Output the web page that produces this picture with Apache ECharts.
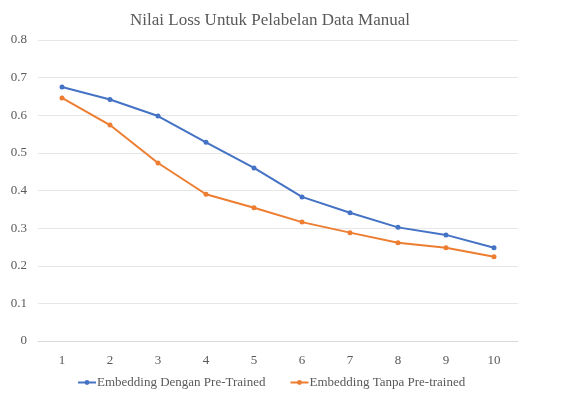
<!DOCTYPE html>
<html>
<head>
<meta charset="utf-8">
<script src="https://cdn.jsdelivr.net/npm/echarts@6/dist/echarts.min.js"></script>
<style>html,body{margin:0;padding:0;background:#fff}#c{width:565px;height:398px}</style>
</head>
<body>
<div id="c"></div>
<script>
const categories = ['1','2','3','4','5','6','7','8','9','10'];
const denganPreTrained = [0.675, 0.642, 0.598, 0.528, 0.460, 0.383, 0.341, 0.302, 0.282, 0.248];
const tanpaPreTrained = [0.646, 0.574, 0.473, 0.390, 0.354, 0.316, 0.288, 0.261, 0.248, 0.224];
const seriesNames = ['Embedding Dengan Pre-Trained', 'Embedding Tanpa Pre-trained'];
const titleText = 'Nilai Loss Untuk Pelabelan Data Manual';

const font = '"Liberation Serif", "Times New Roman", serif';
const chart = echarts.init(document.getElementById('c'));
chart.setOption({
  animation: false,
  backgroundColor: '#fff',
  title: {
    text: titleText, left: 125, top: 7,
    textStyle: {fontFamily: font, fontSize: 17, fontWeight: 'normal', color: '#595959'}
  },
  legend: {
    bottom: 4, left: 72, itemGap: 24, itemWidth: 18, itemHeight: 6,
    textStyle: {fontFamily: font, fontSize: 13, color: '#595959', padding: [0, 0, 0, -4]},
    data: seriesNames
  },
  grid: {left: 38, right: 47, top: 40, bottom: 57},
  xAxis: {
    type: 'category', data: categories, boundaryGap: true,
    axisLine: {lineStyle: {color: '#d9d9d9'}},
    axisTick: {show: false},
    axisLabel: {fontFamily: font, fontSize: 13, color: '#595959', margin: 13}
  },
  yAxis: {
    type: 'value', min: 0, max: 0.8, interval: 0.1,
    axisLine: {show: false}, axisTick: {show: false},
    splitLine: {lineStyle: {color: '#e6e6e6'}},
    axisLabel: {fontFamily: font, fontSize: 13, color: '#595959', margin: 11,
      formatter: v => v === 0 ? '0' : v.toFixed(1)}
  },
  series: [
    {name: seriesNames[0], type: 'line', data: denganPreTrained, symbol: 'circle', symbolSize: 5,
     itemStyle: {color: '#4472C4'}, lineStyle: {width: 2, color: '#4472C4'}},
    {name: seriesNames[1], type: 'line', data: tanpaPreTrained, symbol: 'circle', symbolSize: 5,
     itemStyle: {color: '#ED7D31'}, lineStyle: {width: 2, color: '#ED7D31'}}
  ]
});
</script>
</body>
</html>
